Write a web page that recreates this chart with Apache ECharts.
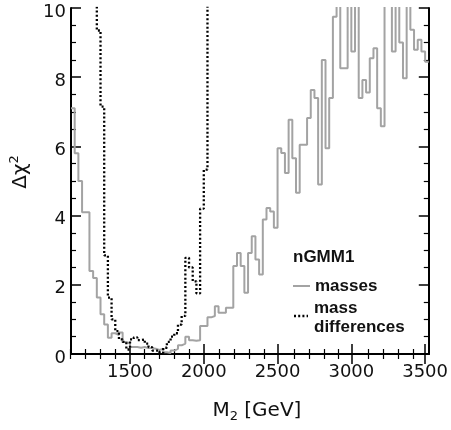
<!DOCTYPE html>
<html><head><meta charset="utf-8">
<script src="https://cdn.jsdelivr.net/npm/echarts@6/dist/echarts.min.js"></script>
<style>html,body{margin:0;padding:0;background:#fff}#c{width:451px;height:430px}</style>
</head><body><div id="c"></div>
<script>
// Histogram binning (GeV)
const binStart = 1100;
const binWidth = 25;
// Δχ² per bin, "masses" (gray solid)
const massesChi2 = [
  7.1, 5.8, 5.0, 4.1, 4.1, 2.4, 2.2, 1.63, 1.15, 0.85,
  0.47, 0.6, 0.55, 0.62, 0.35, 0.3, 0.2, 0.2, 0.18, 0.2,
  0.17, 0.17, 0.15, 0.12, 0.15, 0.05, 0.03, 0.1, 0.15, 0.25,
  0.3, 0.5, 0.4, 0.38, 0.4, 0.81, 0.81, 1.06, 1.1, 1.38,
  1.19, 1.19, 1.34, 1.34, 2.54, 2.92, 2.54, 1.77, 2.92, 3.4,
  2.73, 2.3, 3.89, 4.22, 4.12, 3.65, 5.95, 5.81, 5.23, 6.77,
  5.66, 4.66, 6.05, 6.05, 6.82, 7.63, 7.4, 4.9, 8.5, 5.95,
  7.4, 9.75, 11, 8.26, 8.26, 11, 8.74, 11, 7.4, 7.92,
  7.56, 8.55, 8.84, 7.1, 6.58, 11, 11, 8.74, 11, 9.0,
  7.97, 11, 9.37, 8.79, 9.08, 8.74, 8.45
];
// Δχ² per bin, "mass differences" (black dotted)
const massDiffChi2 = [
  11, 11, 11, 11, 11, 11, 11, 9.35, 7.15, 2.85,
  1.63, 1.0, 0.66, 0.42, 0.35, 0.13, 0.42, 0.48, 0.4, 0.42,
  0.3, 0.2, 0.1, 0.1, 0.03, 0.18, 0.35, 0.5, 0.6, 0.85,
  1.1, 2.78, 2.5, 2.1, 1.75, 4.2, 5.33, 11
];
const xMajorTicks = [1500, 2000, 2500, 3000, 3500];
const xMinorTicks = [1100,1200,1300,1400,1600,1700,1800,1900,2100,2200,2300,2400,2600,2700,2800,2900,3100,3200,3300,3400];
const xMin = 1100, xMax = 3525;
const yMin = 0, yMax = 10, yStep = 2;
const legendTitle = 'nGMM1';
const seriesNames = ['masses', 'mass\ndifferences'];

function toSteps(vals) {
  const pts = vals.map((v, i) => [binStart + i * binWidth, v]);
  pts.push([binStart + vals.length * binWidth, vals[vals.length - 1]]);
  return pts;
}

const FONT = 'DejaVu Sans';
const txt = '#111';
const gridRect = {left: 70, right: 19, top: 8, bottom: 76, containLabel: false};
const clear = 'rgba(0,0,0,0)';

const chart = echarts.init(document.getElementById('c'), null, {renderer: 'canvas'});
chart.setOption({
  animation: false,
  backgroundColor: '#fff',
  grid: [Object.assign({}, gridRect), Object.assign({}, gridRect)],
  xAxis: [
    { gridIndex: 0, type: 'value', position: 'bottom', min: xMin, max: xMax,
      axisLine: {show: true, lineStyle: {color: '#000', width: 2}},
      axisTick: {show: true, inside: true, length: 10, customValues: xMajorTicks, lineStyle: {color: '#000', width: 1.5}},
      axisLabel: {customValues: xMajorTicks, formatter: v => String(v), margin: 9, color: txt, fontFamily: FONT, fontSize: 18},
      splitLine: {show: false},
      name: 'M{sub|2} [GeV]', nameLocation: 'middle', nameGap: 44,
      nameTextStyle: {color: txt, fontFamily: FONT, fontSize: 20, padding: [0, 0, 0, 14],
        rich: {sub: {fontFamily: FONT, fontSize: 13, color: txt, padding: [12, 0, 0, 0]}}}
    },
    { gridIndex: 0, type: 'value', position: 'top', min: xMin, max: xMax,
      axisLine: {show: true, lineStyle: {color: '#000', width: 2}},
      axisTick: {show: true, inside: true, length: 10, customValues: xMajorTicks, lineStyle: {color: '#000', width: 1.5}},
      axisLabel: {show: false}, splitLine: {show: false}
    },
    { gridIndex: 1, type: 'value', position: 'bottom', min: xMin, max: xMax,
      axisLine: {show: true, lineStyle: {color: clear, width: 1}},
      axisTick: {show: true, inside: true, length: 5, customValues: xMinorTicks, lineStyle: {color: '#000', width: 1.2}},
      axisLabel: {show: false}, splitLine: {show: false}
    },
    { gridIndex: 1, type: 'value', position: 'top', min: xMin, max: xMax,
      axisLine: {show: true, lineStyle: {color: clear, width: 1}},
      axisTick: {show: true, inside: true, length: 5, customValues: xMinorTicks, lineStyle: {color: '#000', width: 1.2}},
      axisLabel: {show: false}, splitLine: {show: false}
    }
  ],
  yAxis: [
    { gridIndex: 0, type: 'value', position: 'left', min: yMin, max: yMax, interval: yStep,
      axisLine: {show: true, lineStyle: {color: '#000', width: 2}},
      axisTick: {inside: true, length: 10, lineStyle: {color: '#000', width: 1.5}},
      minorTick: {show: true, splitNumber: 4, length: 5, lineStyle: {color: '#000', width: 1.2}},
      axisLabel: {margin: 5, color: txt, fontFamily: FONT, fontSize: 18, verticalAlign: 'top', lineHeight: 8},
      splitLine: {show: false},
      name: 'Δχ{sup|2}', nameLocation: 'middle', nameGap: 38, nameRotate: 90,
      nameTextStyle: {color: txt, fontFamily: FONT, fontSize: 20, padding: [0, 0, 0, 18],
        rich: {sup: {fontFamily: FONT, fontSize: 13, color: txt, padding: [0, 0, 12, 0]}}}
    },
    { gridIndex: 0, type: 'value', position: 'right', min: yMin, max: yMax, interval: yStep,
      axisLine: {show: true, lineStyle: {color: '#000', width: 2}},
      axisTick: {inside: true, length: 10, lineStyle: {color: '#000', width: 1.5}},
      minorTick: {show: true, splitNumber: 4, length: 5, lineStyle: {color: '#000', width: 1.2}},
      axisLabel: {show: false}, splitLine: {show: false}
    },
    { gridIndex: 1, type: 'value', position: 'left', min: yMin, max: yMax, interval: yStep,
      axisLine: {show: false}, axisTick: {show: false}, axisLabel: {show: false}, splitLine: {show: false}
    },
    { gridIndex: 1, type: 'value', position: 'right', min: yMin, max: yMax, interval: yStep,
      axisLine: {show: false}, axisTick: {show: false}, axisLabel: {show: false}, splitLine: {show: false}
    }
  ],
  series: [
    { name: seriesNames[0], type: 'line', xAxisIndex: 0, yAxisIndex: 0, step: 'end',
      data: toSteps(massesChi2), showSymbol: false, symbol: 'none', clip: true,
      lineStyle: {color: '#a3a3a3', width: 2}, z: 2 },
    { name: seriesNames[1], type: 'line', xAxisIndex: 0, yAxisIndex: 0, step: 'end',
      data: toSteps(massDiffChi2), showSymbol: false, symbol: 'none', clip: true,
      lineStyle: {color: '#000', width: 2.3, type: [2, 2.2], cap: 'butt'}, z: 3 }
  ],
  graphic: [
    { type: 'text', left: 293, top: 249, style: {text: legendTitle, font: 'bold 17px "Liberation Sans"', fill: txt} },
    { type: 'line', shape: {x1: 293, y1: 286, x2: 310, y2: 286}, style: {stroke: '#a3a3a3', lineWidth: 2} },
    { type: 'text', left: 315, top: 278, style: {text: seriesNames[0], font: 'bold 17px "Liberation Sans"', fill: txt} },
    { type: 'line', shape: {x1: 294, y1: 316, x2: 308, y2: 316}, style: {stroke: '#000', lineWidth: 2.3, lineDash: [2, 2.2]} },
    { type: 'text', left: 314, top: 299, style: {text: seriesNames[1], font: 'bold 17px "Liberation Sans"', fill: txt, lineHeight: 19} }
  ]
});
</script></body></html>
